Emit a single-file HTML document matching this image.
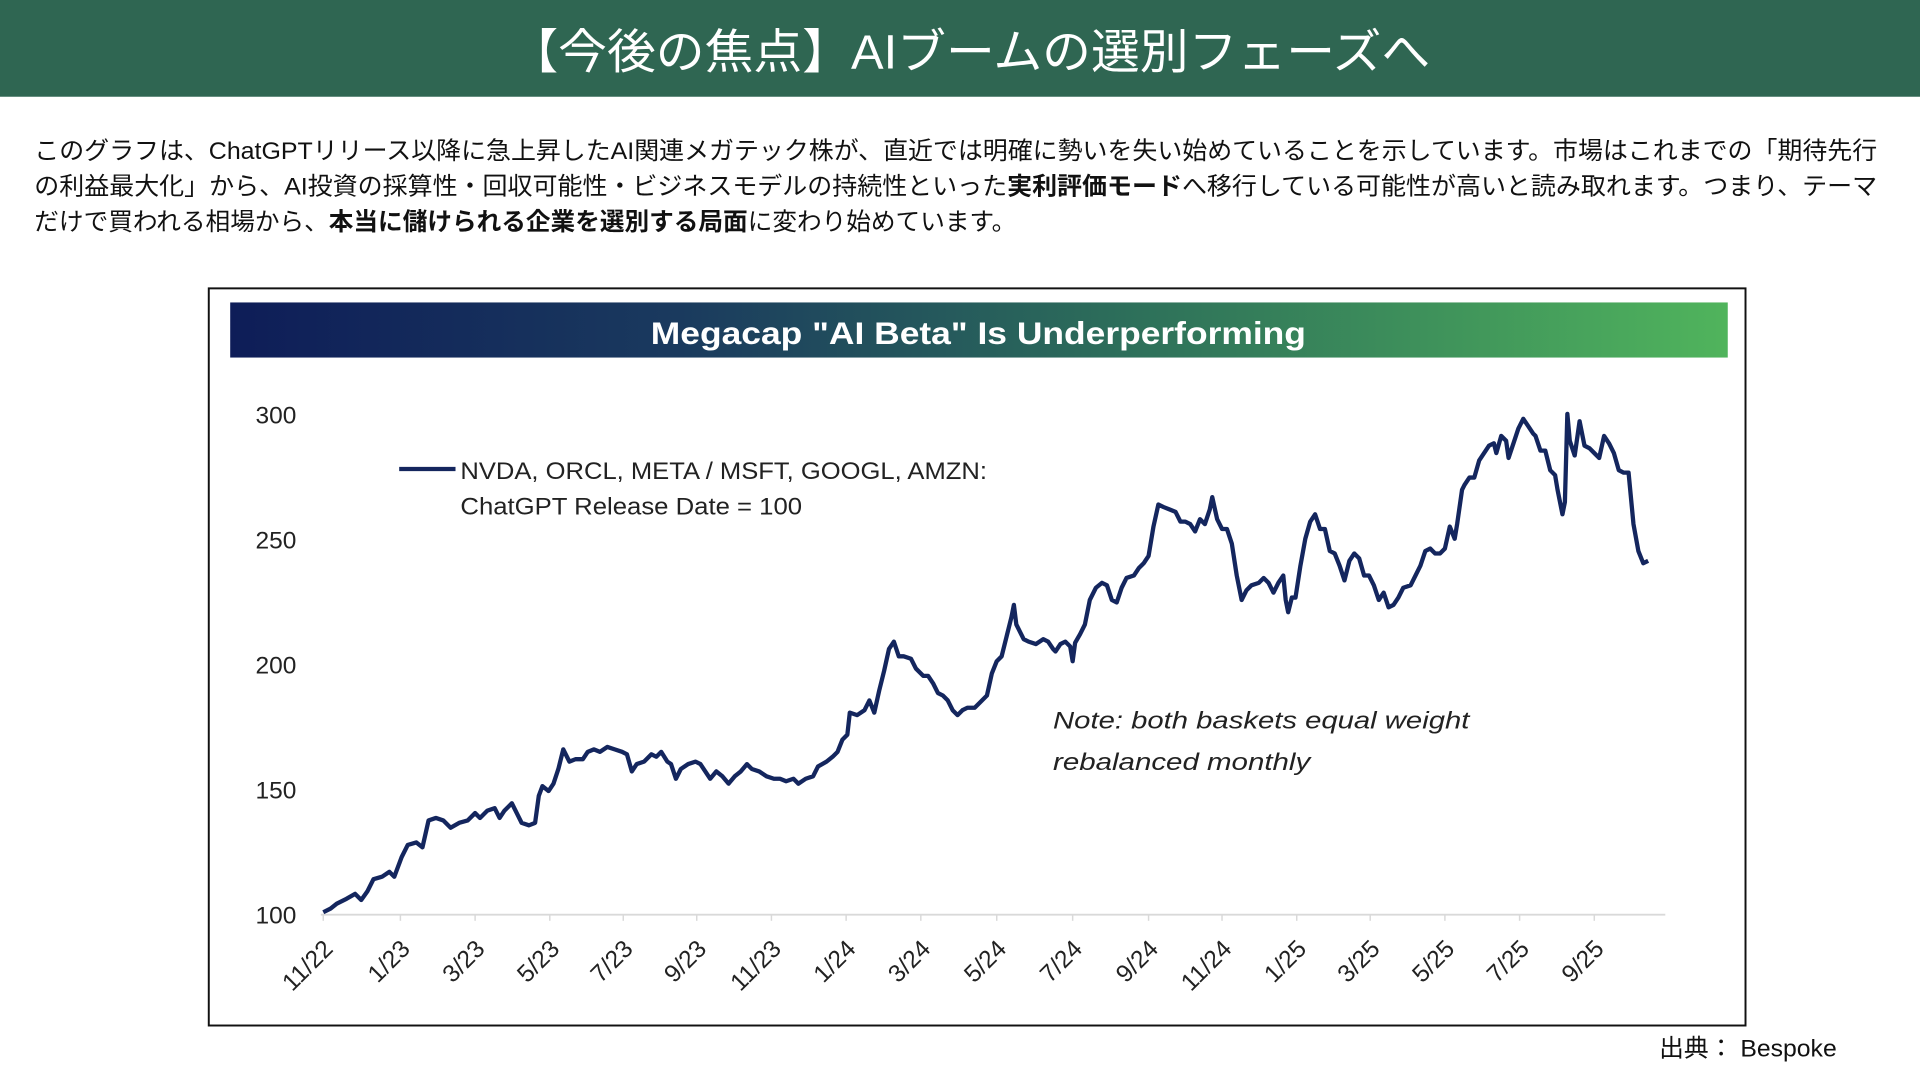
<!DOCTYPE html>
<html><head><meta charset="utf-8"><style>
html,body{margin:0;padding:0;background:#fff;width:1920px;height:1080px;overflow:hidden}
svg{display:block}
</style></head><body>
<svg width="1920" height="1080" viewBox="0 0 1568 882" xmlns="http://www.w3.org/2000/svg">
<defs>
<linearGradient id="g" x1="0" x2="1" y1="0" y2="0">
<stop offset="0" stop-color="#0e1d58"/>
<stop offset="0.3" stop-color="#1a3a5e"/>
<stop offset="0.6" stop-color="#2d6f5a"/>
<stop offset="1" stop-color="#50b45c"/>
</linearGradient>
</defs>
<rect x="0" y="0" width="1568" height="79" fill="#2f6652"/>
<text x="792" y="56" fill="#fff" font-family="Liberation Sans, Noto Sans CJK JP, sans-serif" font-size="39" text-anchor="middle" textLength="752" lengthAdjust="spacingAndGlyphs">【今後の焦点】AIブームの選別フェーズへ</text>
<g font-family="Liberation Sans, Noto Sans CJK JP, sans-serif" font-size="20" fill="#111">
<text x="28" y="130" textLength="1505" lengthAdjust="spacingAndGlyphs">このグラフは、ChatGPTリリース以降に急上昇したAI関連メガテック株が、直近では明確に勢いを失い始めていることを示しています。市場はこれまでの「期待先行</text>
<text x="28" y="159" textLength="1505" lengthAdjust="spacingAndGlyphs">の利益最大化」から、AI投資の採算性・回収可能性・ビジネスモデルの持続性といった<tspan font-weight="bold">実利評価モード</tspan>へ移行している可能性が高いと読み取れます。つまり、テーマ</text>
<text x="28" y="188" textLength="802" lengthAdjust="spacingAndGlyphs">だけで買われる相場から、<tspan font-weight="bold">本当に儲けられる企業を選別する局面</tspan>に変わり始めています。</text>
</g>
<rect x="170.5" y="235.5" width="1255" height="602" fill="#fff" stroke="#111" stroke-width="1.6"/>
<rect x="188" y="247" width="1223" height="45" fill="url(#g)"/>
<text x="799" y="281" fill="#fff" font-family="Liberation Sans, sans-serif" font-weight="bold" font-size="26" text-anchor="middle" textLength="535" lengthAdjust="spacingAndGlyphs">Megacap "AI Beta" Is Underperforming</text>
<g font-family="Liberation Sans, sans-serif" font-size="20" fill="#222" text-anchor="end">
<text x="242" y="346">300</text><text x="242" y="448">250</text><text x="242" y="550">200</text><text x="242" y="652">150</text><text x="242" y="754">100</text>
</g>
<line x1="262" y1="747" x2="1360" y2="747" stroke="#d9d9d9" stroke-width="1.5"/>
<g stroke="#d9d9d9" stroke-width="1.2">
<line x1="264" y1="747" x2="264" y2="752"/><line x1="327" y1="747" x2="327" y2="752"/><line x1="388" y1="747" x2="388" y2="752"/><line x1="449" y1="747" x2="449" y2="752"/><line x1="509" y1="747" x2="509" y2="752"/><line x1="569" y1="747" x2="569" y2="752"/><line x1="630" y1="747" x2="630" y2="752"/><line x1="691" y1="747" x2="691" y2="752"/><line x1="752" y1="747" x2="752" y2="752"/><line x1="814" y1="747" x2="814" y2="752"/><line x1="876" y1="747" x2="876" y2="752"/><line x1="938" y1="747" x2="938" y2="752"/><line x1="998" y1="747" x2="998" y2="752"/><line x1="1059" y1="747" x2="1059" y2="752"/><line x1="1119" y1="747" x2="1119" y2="752"/><line x1="1180" y1="747" x2="1180" y2="752"/><line x1="1241" y1="747" x2="1241" y2="752"/><line x1="1302" y1="747" x2="1302" y2="752"/>
</g>
<g font-family="Liberation Sans, sans-serif" font-size="20" fill="#222" text-anchor="end">
<text transform="translate(273,776) rotate(-45)">11/22</text>
<text transform="translate(336,776) rotate(-45)">1/23</text>
<text transform="translate(397,776) rotate(-45)">3/23</text>
<text transform="translate(458,776) rotate(-45)">5/23</text>
<text transform="translate(518,776) rotate(-45)">7/23</text>
<text transform="translate(578,776) rotate(-45)">9/23</text>
<text transform="translate(639,776) rotate(-45)">11/23</text>
<text transform="translate(700,776) rotate(-45)">1/24</text>
<text transform="translate(761,776) rotate(-45)">3/24</text>
<text transform="translate(823,776) rotate(-45)">5/24</text>
<text transform="translate(885,776) rotate(-45)">7/24</text>
<text transform="translate(947,776) rotate(-45)">9/24</text>
<text transform="translate(1007,776) rotate(-45)">11/24</text>
<text transform="translate(1068,776) rotate(-45)">1/25</text>
<text transform="translate(1128,776) rotate(-45)">3/25</text>
<text transform="translate(1189,776) rotate(-45)">5/25</text>
<text transform="translate(1250,776) rotate(-45)">7/25</text>
<text transform="translate(1311,776) rotate(-45)">9/25</text>
</g>
<line x1="326" y1="383" x2="372" y2="383" stroke="#14265e" stroke-width="3.5"/>
<g font-family="Liberation Sans, sans-serif" font-size="20" fill="#222">
<text x="376" y="391" textLength="430" lengthAdjust="spacingAndGlyphs">NVDA, ORCL, META / MSFT, GOOGL, AMZN:</text>
<text x="376" y="420" textLength="279" lengthAdjust="spacingAndGlyphs">ChatGPT Release Date = 100</text>
<text x="860" y="595" font-style="italic" textLength="340" lengthAdjust="spacingAndGlyphs">Note: both baskets equal weight</text>
<text x="860" y="629" font-style="italic" textLength="210" lengthAdjust="spacingAndGlyphs">rebalanced monthly</text>
</g>
<polyline fill="none" stroke="#14265e" stroke-width="3.5" stroke-linejoin="round" points="264,745 270,742 275,738 283,734 290,730 295,735 300,728 305,718 312,716 318,712 322,716 328,700 333,690 340,688 345,692 350,670 356,668 362,670 368,676 375,672 382,670 388,664 392,668 398,662 404,660 408,668 412,662 418,656 422,664 426,672 432,674 437,672 440,650 443,642 448,646 452,640 456,628 460,612 465,622 470,620 476,620 480,614 485,612 490,614 496,610 502,612 508,614 512,616 516,630 520,624 526,622 532,616 536,618 540,614 545,622 548,624 552,636 556,628 562,624 568,622 572,624 576,630 580,636 585,630 590,634 595,640 600,634 605,630 610,624 614,628 620,630 626,634 632,636 637,636 642,638 648,636 652,640 658,636 664,634 668,626 675,622 680,618 684,614 688,604 692,600 694,582 700,584 706,580 710,572 714,582 718,564 722,548 726,530 730,524 734,536 738,536 744,538 748,546 754,552 758,552 762,558 766,566 770,568 774,572 778,580 782,584 786,580 790,578 796,578 800,574 806,568 810,550 814,540 818,536 822,520 826,504 828,494 830,510 836,522 840,524 846,526 852,522 856,524 860,530 862,532 866,526 870,524 874,528 876,540 878,525 882,518 886,510 890,490 895,480 900,476 904,478 908,490 912,492 916,480 920,472 926,470 930,464 934,460 938,454 942,430 946,412 950,414 955,416 960,418 964,426 968,426 972,428 976,434 980,424 984,428 988,416 990,406 994,424 998,432 1002,432 1006,444 1010,470 1014,490 1018,482 1022,478 1028,476 1032,472 1036,476 1040,484 1044,476 1048,470 1050,490 1052,500 1055,488 1058,488 1062,462 1066,440 1070,426 1074,420 1078,432 1082,432 1086,450 1090,452 1094,462 1098,474 1102,458 1106,452 1110,456 1114,470 1118,470 1122,478 1126,490 1130,484 1134,496 1138,494 1142,488 1146,480 1152,478 1156,470 1160,462 1164,450 1168,448 1172,452 1176,452 1180,448 1184,430 1188,440 1190,428 1194,400 1196,396 1200,390 1204,390 1208,376 1212,370 1216,364 1220,362 1222,370 1226,356 1230,360 1232,374 1236,362 1240,350 1244,342 1248,348 1252,354 1254,356 1258,368 1262,368 1266,384 1270,388 1272,400 1276,420 1278,410 1280,338 1282,360 1286,372 1290,344 1294,364 1298,366 1302,370 1306,374 1310,356 1314,362 1318,370 1322,384 1326,386 1330,386 1334,428 1338,450 1342,460 1346,458"/>
<text x="1355" y="863" font-family="Liberation Sans, Noto Sans CJK JP, sans-serif" font-size="20" fill="#111" textLength="145" lengthAdjust="spacingAndGlyphs">出典： Bespoke</text>
</svg>
</body></html>
